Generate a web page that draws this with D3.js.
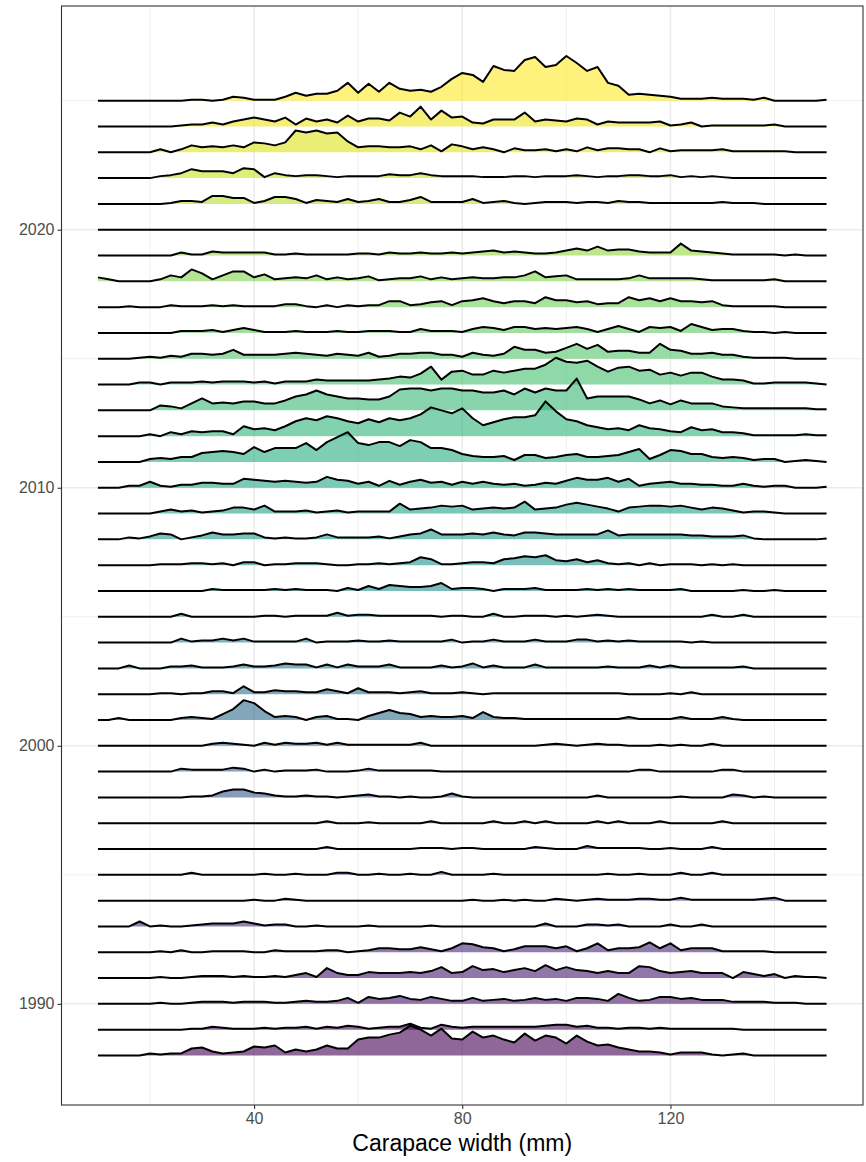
<!DOCTYPE html>
<html>
<head>
<meta charset="utf-8">
<script src="https://cdn.jsdelivr.net/npm/d3@7"></script>
<style>
  body { margin: 0; background: #fff; }
  text { font-family: "Liberation Sans", Arial, sans-serif; }
</style>
</head>
<body>
<div id="ridgeFrame"></div>
<script>
// carapace width bin centres (mm), 2 mm bins
const bins = d3.range(10, 151, 2)

// scaled counts per bin for each survey year (26 = one row of height)
const h2025 = [0,0,0,0,0,0,0,0,0,1, 1,0,1,4,3,1,1,1,4,8, 5,7,7,10,18,8,17,9,18,12, 10,11,9,14,22,28,26,19,35,31, 30,41,44,34,36,45,38,30,34,18, 15,6,7,6,5,4,2,2,2,3, 2,2,2,1,3,0,0,0,0,0, 1]
const h2024 = [0,0,0,0,0,0,0,0,1,2, 2,4,2,5,7,9,7,5,9,2, 8,5,7,4,11,5,8,8,6,14, 10,20,7,16,9,10,4,3,7,7, 7,14,5,7,6,5,8,7,2,5, 4,4,4,4,5,1,2,4,0,1, 1,1,1,1,1,2,0,0,0,0, 0]
const h2023 = [0,0,0,0,0,0,3,0,3,7, 5,6,5,7,5,10,9,7,10,22, 20,22,19,20,11,5,6,6,5,5, 6,3,7,1,8,6,3,5,3,0, 4,2,2,3,1,3,1,5,2,4, 4,3,3,0,4,1,2,2,2,2, 3,1,1,1,1,1,1,0,0,0, 0]
const h2022 = [0,0,0,0,0,0,2,3,5,9, 7,7,7,5,10,9,1,5,3,2, 3,3,2,1,2,2,2,2,4,3, 3,5,3,2,2,2,2,1,1,1, 2,2,1,2,2,2,3,2,1,2, 2,3,3,2,2,3,1,2,1,2, 1,0,0,0,0,0,0,0,0,0, 0]
const h2021 = [0,0,0,0,0,0,0,1,3,3, 2,8,8,6,6,1,3,7,7,5, 1,4,3,2,5,2,3,5,2,2, 4,7,2,2,2,2,5,1,2,3, 1,0,1,2,2,2,1,2,2,1, 3,2,2,1,1,1,1,1,1,1, 2,1,1,1,0,0,0,0,0,0, 0]
const h2020 = [0,0,0,0,0,0,0,0,0,0, 0,0,0,0,0,0,0,0,0,0, 0,0,0,0,0,0,0,0,0,0, 0,0,0,0,0,0,0,0,0,0, 0,0,0,0,0,0,0,0,0,0, 0,0,0,0,0,0,0,0,0,0, 0,0,0,0,0,0,0,0,0,0, 0]
const h2019 = [0,0,0,0,0,0,0,0,3,1, 1,4,3,3,3,3,3,1,1,2, 1,1,1,1,1,2,2,1,3,2, 2,3,2,2,3,2,3,4,5,3, 4,3,2,2,3,5,7,5,9,5, 6,6,4,3,3,3,12,5,4,3, 2,1,1,1,1,1,0,1,0,0, 0]
const h2018 = [4,2,0,0,0,0,2,6,4,12, 8,2,6,10,10,4,7,2,3,4, 3,6,2,4,2,3,5,1,2,3, 3,5,2,4,2,3,4,3,3,4, 4,6,10,4,5,6,2,2,2,2, 2,3,6,3,3,3,3,3,2,1, 1,1,1,1,1,2,0,0,0,0, 0]
const h2017 = [0,0,0,1,0,0,0,2,1,1, 1,2,1,2,1,1,1,1,3,3, 1,0,2,0,2,1,2,2,6,6, 2,3,5,6,2,6,7,9,6,4, 6,6,4,10,7,7,5,6,3,4, 4,10,7,9,6,9,6,6,5,6, 2,1,1,1,1,1,0,0,0,0, 0]
const h2016 = [0,0,0,0,0,0,0,0,2,2, 2,3,1,3,5,3,1,1,1,2, 1,1,1,2,1,1,2,2,2,1, 1,4,2,2,2,1,4,6,5,3, 6,6,4,5,4,5,6,4,1,4, 7,4,1,6,5,6,2,9,6,3, 4,4,2,1,1,0,1,0,0,0, 0]
const h2015 = [0,0,0,0,1,2,1,3,2,5, 5,4,5,9,4,4,4,4,5,6, 5,4,3,5,4,3,6,2,3,5, 5,6,6,4,4,2,6,4,3,5, 12,9,9,6,7,11,15,10,14,7, 8,8,6,6,15,9,8,5,5,6, 4,4,2,1,1,1,1,0,0,0, 0]
const h2014 = [0,0,0,0,2,2,0,2,2,2, 3,2,3,3,3,2,3,1,3,3, 3,5,4,4,4,4,4,5,6,8, 7,11,18,5,13,14,10,10,14,12, 14,16,16,20,27,23,22,24,18,13, 17,18,14,15,10,12,9,12,12,8, 5,5,4,1,1,2,2,2,2,1, 0]
const h2013 = [0,0,0,0,0,0,5,4,2,7, 12,7,8,7,9,9,7,7,10,14, 16,20,16,14,12,12,11,11,14,21, 22,22,20,22,22,20,20,18,18,20, 16,22,18,22,20,20,32,12,14,14, 14,14,11,7,10,6,10,7,7,7, 4,3,2,2,2,2,2,2,2,1, 1]
const h2012 = [0,0,0,0,0,2,0,4,2,5, 4,5,5,2,10,7,8,6,10,15, 18,16,20,18,15,13,17,14,18,16, 18,22,29,26,23,28,18,11,14,17, 19,19,21,35,25,17,15,11,9,7, 8,6,11,8,7,5,4,9,6,7, 4,4,3,1,1,1,1,1,2,1, 1]
const h2011 = [0,0,0,0,0,3,4,3,5,5, 9,10,11,10,8,15,10,14,14,14, 19,12,20,25,30,19,17,20,20,16, 22,20,14,14,12,8,6,5,5,6, 2,7,7,4,5,7,8,5,5,6, 7,10,13,3,7,12,11,8,8,5, 4,5,4,2,3,3,0,1,2,1, 0]
const h2010 = [0,0,0,2,2,6,2,1,3,3, 5,5,4,4,9,8,7,6,7,6, 5,6,11,8,7,4,6,2,7,3, 6,8,5,6,3,6,4,6,4,3, 4,2,3,5,4,7,10,8,8,10, 6,9,2,4,5,6,4,4,3,3, 2,2,4,2,1,2,2,0,0,0, 1]
const h2009 = [0,0,0,0,0,0,2,4,2,3, 1,2,3,6,6,4,8,2,2,2, 3,1,2,3,1,2,2,2,2,10, 4,5,6,8,7,8,4,5,6,5, 6,12,4,5,6,9,11,9,7,5, 2,6,7,8,8,7,8,6,4,6, 5,3,1,2,2,1,0,0,0,0, 0]
const h2008 = [0,0,0,2,1,3,6,5,0,2, 4,7,5,5,6,6,2,1,2,1, 1,2,5,2,2,2,2,3,1,3, 5,6,10,5,5,5,6,5,7,5, 4,7,7,6,5,5,5,5,5,9, 4,5,5,5,5,5,5,4,4,3, 3,3,4,1,0,0,0,0,0,0, 1]
const h2007 = [0,0,0,0,0,0,1,1,1,2, 2,1,2,0,3,3,0,1,1,2, 2,2,1,0,0,1,1,2,1,2, 3,8,6,1,1,2,3,3,2,6, 7,9,8,10,5,4,6,3,5,2, 1,2,0,2,0,1,1,1,0,1, 0,1,0,0,0,0,0,0,0,0, 0]
const h2006 = [0,0,0,0,0,0,0,0,0,0, 0,2,1,1,1,1,1,2,1,2, 1,1,1,0,3,1,5,2,6,5, 4,4,5,8,2,3,3,2,0,2, 2,2,3,1,1,1,1,2,1,2, 1,2,1,1,1,1,2,0,0,0, 0,0,1,0,0,1,0,0,0,0, 0]
const h2005 = [0,0,0,0,0,0,0,0,3,0, 0,0,0,0,0,0,1,1,0,1, 1,1,1,4,1,2,2,1,1,1, 1,1,1,0,1,1,0,0,3,0, 0,1,1,1,0,1,0,1,2,1, 0,0,0,0,0,0,0,0,0,2, 0,0,2,0,0,0,0,0,0,0, 0]
const h2004 = [0,0,0,0,0,0,0,0,4,1, 2,2,4,2,4,1,1,1,1,1, 4,0,1,1,1,2,1,1,2,1, 1,1,1,1,3,0,1,1,3,1, 1,1,3,1,1,1,3,3,1,2, 1,2,1,1,1,1,1,0,1,0, 0,0,0,0,0,0,0,0,0,0, 0]
const h2003 = [0,0,0,3,0,0,0,2,2,3, 1,1,1,2,4,2,2,3,5,4, 4,1,4,1,4,2,2,2,4,1, 1,1,1,3,1,2,5,1,3,1, 1,1,4,1,1,1,1,1,1,2, 1,1,1,3,1,3,1,1,1,1, 1,1,2,0,0,0,0,0,0,0, 0]
const h2002 = [0,0,0,0,0,0,1,1,0,1, 1,3,3,1,8,2,2,4,3,3, 2,2,5,3,1,6,2,2,2,1, 2,3,1,1,1,2,1,0,1,1, 1,1,1,1,1,1,1,1,1,1, 1,0,0,0,0,1,0,2,0,0, 0,0,0,0,0,0,0,0,0,0, 0]
const h2001 = [0,0,2,0,0,0,0,0,2,3, 2,1,6,11,20,17,9,3,4,3, 0,3,4,1,1,0,4,7,10,7, 6,3,4,3,3,4,2,8,3,2, 2,1,1,1,1,1,1,1,1,1, 1,3,1,1,1,1,3,1,1,1, 3,1,0,0,0,0,0,0,0,0, 0]
const h2000 = [0,0,0,0,0,0,0,0,0,0, 0,2,3,2,1,0,3,1,3,2, 2,3,1,3,1,1,1,1,1,1, 1,3,0,0,0,0,0,0,0,0, 0,0,0,1,2,1,0,1,2,1, 1,0,0,0,1,0,1,0,0,2, 0,0,0,0,0,0,0,0,0,0, 0]
const h1999 = [0,0,0,0,0,0,0,0,3,2, 2,2,2,4,3,0,2,0,1,1, 1,2,0,0,0,1,3,1,1,1, 1,1,1,0,0,0,0,0,0,0, 0,0,0,0,0,0,0,0,0,0, 0,0,2,2,0,0,0,0,0,0, 2,2,0,0,0,0,0,0,0,0, 0]
const h1998 = [0,0,0,0,0,0,0,0,0,1, 1,2,6,8,8,5,4,2,1,1, 2,1,1,0,1,2,3,1,1,0, 1,0,0,1,4,1,0,0,0,0, 0,0,0,0,0,0,0,0,2,0, 0,0,0,0,0,0,1,0,0,0, 0,3,2,0,1,0,0,0,0,0, 0]
const h1997 = [0,0,0,0,0,0,0,0,0,0, 0,0,0,0,0,0,0,0,0,0, 0,0,2,0,0,0,1,0,0,0, 0,0,2,0,0,0,0,0,2,0, 0,2,0,2,0,0,0,0,2,0, 2,0,0,0,2,0,0,0,0,0, 2,0,0,0,0,0,0,0,0,0, 0]
const h1996 = [0,0,0,0,0,0,0,0,0,0, 0,0,0,0,0,0,0,0,0,0, 0,0,2,0,0,0,0,0,0,0, 0,1,1,1,0,1,1,0,0,0, 0,0,2,1,0,0,0,3,1,1, 1,1,1,0,0,1,0,0,0,2, 0,0,0,0,0,0,0,0,0,0, 0]
const h1995 = [0,0,0,0,0,0,0,0,0,2, 0,0,0,0,0,0,1,0,0,1, 0,0,0,2,2,0,0,1,0,0, 1,0,0,3,0,0,0,0,1,0, 0,0,0,0,0,0,0,0,0,1, 0,0,1,0,0,0,2,0,0,2, 0,0,0,0,0,0,0,0,0,0, 0]
const h1994 = [0,0,0,0,0,0,0,0,0,0, 0,0,0,0,0,1,0,0,2,1, 0,0,0,0,0,0,0,0,0,0, 0,0,0,0,0,0,1,0,0,1, 0,1,0,0,2,1,0,1,2,1, 1,1,2,2,1,1,3,1,1,1, 1,1,1,1,2,3,0,0,0,0, 0]
const h1993 = [0,0,0,0,5,0,1,0,0,1, 2,3,3,3,5,3,1,2,2,0, 0,1,0,0,0,0,1,0,0,0, 0,0,1,0,0,0,0,0,0,0, 0,0,0,3,0,0,0,2,2,1, 2,0,0,0,0,2,0,0,2,0, 0,0,0,0,0,0,0,0,0,0, 0]
const h1992 = [0,0,0,0,0,0,1,0,2,0, 0,1,1,1,1,0,0,2,1,1, 1,1,2,2,0,1,2,4,4,3, 3,5,3,1,4,9,8,5,4,1, 3,6,6,6,4,6,1,4,9,2, 4,4,5,10,4,9,2,4,4,4, 1,1,1,1,1,0,0,0,0,0, 0]
const h1991 = [0,0,0,0,0,0,1,0,0,1, 2,2,2,1,2,1,1,2,1,3, 5,1,10,5,3,3,6,5,5,5, 6,5,7,11,5,6,12,8,9,6, 8,10,7,13,8,11,8,7,5,7, 5,5,12,11,7,5,6,7,5,5, 5,0,6,4,2,4,0,2,1,1, 0]
const h1990 = [0,0,0,0,0,0,1,0,0,1, 2,2,2,1,2,2,2,1,1,2, 3,2,2,3,6,1,7,5,6,8, 5,4,7,5,3,3,6,3,4,5, 3,4,6,4,5,3,6,6,5,3, 10,6,3,4,7,7,5,6,4,4, 4,2,2,2,2,1,1,1,0,0, 0]
const h1989 = [0,0,0,0,0,0,0,0,0,1, 1,3,2,1,1,1,2,1,2,2, 3,1,3,2,4,3,1,2,3,3, 6,2,1,5,3,2,3,3,3,3, 3,3,3,4,5,5,3,4,2,2, 1,2,2,1,2,1,1,1,1,1, 1,1,0,0,0,0,0,0,0,0, 0]
const h1988 = [0,0,0,0,0,2,1,2,2,7, 8,4,2,3,4,9,8,10,3,6, 4,6,10,7,7,16,18,18,21,23, 30,26,20,27,17,16,24,18,20,16, 13,22,15,20,18,12,20,14,10,11, 8,6,4,4,3,1,3,3,3,1, 0,1,2,0,0,0,0,0,0,0, 0]

const ridges = [
  [1988, h1988], [1989, h1989], [1990, h1990], [1991, h1991], [1992, h1992],
  [1993, h1993], [1994, h1994], [1995, h1995], [1996, h1996], [1997, h1997],
  [1998, h1998], [1999, h1999], [2000, h2000], [2001, h2001], [2002, h2002],
  [2003, h2003], [2004, h2004], [2005, h2005], [2006, h2006], [2007, h2007],
  [2008, h2008], [2009, h2009], [2010, h2010], [2011, h2011], [2012, h2012],
  [2013, h2013], [2014, h2014], [2015, h2015], [2016, h2016], [2017, h2017],
  [2018, h2018], [2019, h2019], [2020, h2020], [2021, h2021], [2022, h2022],
  [2023, h2023], [2024, h2024], [2025, h2025]
]

const xMajor = [40, 80, 120]
const xMinor = [20, 60, 100, 140]
const yMajor = [1990, 2000, 2010, 2020]
const yMinor = [1995, 2005, 2015, 2025]

// panel box
const width = 866
const height = 1162
const panel = ({ left: 61.5, right: 863, top: 6, bottom: 1105 })

var svg = d3.select("#ridgeFrame")
  .append("svg")
    .attr("width", width)
    .attr("height", height)

var x = d3.scaleLinear()
  .domain([3, 157])
  .range([panel.left, panel.right])

var y = d3.scaleLinear()
  .domain([1986.08, 2028.67])
  .range([panel.bottom, panel.top])

// 26 scaled counts = one row of height
var rowScale = d3.scaleLinear().domain([0, 26]).range([0, 1])

var color = d3.scaleSequential(d3.interpolateViridis).domain([1988, 2025])

// grid lines
var grid = svg.append("g")
grid.selectAll(".xminor").data(xMinor).enter().append("line")
  .attr("x1", d => x(d)).attr("x2", d => x(d))
  .attr("y1", panel.top).attr("y2", panel.bottom)
  .attr("stroke", "#EBEBEB").attr("stroke-width", 0.8)
grid.selectAll(".yminor").data(yMinor).enter().append("line")
  .attr("x1", panel.left).attr("x2", panel.right)
  .attr("y1", d => y(d)).attr("y2", d => y(d))
  .attr("stroke", "#EBEBEB").attr("stroke-width", 0.8)
grid.selectAll(".xmajor").data(xMajor).enter().append("line")
  .attr("x1", d => x(d)).attr("x2", d => x(d))
  .attr("y1", panel.top).attr("y2", panel.bottom)
  .attr("stroke", "#EBEBEB").attr("stroke-width", 1.5)
grid.selectAll(".ymajor").data(yMajor).enter().append("line")
  .attr("x1", panel.left).attr("x2", panel.right)
  .attr("y1", d => y(d)).attr("y2", d => y(d))
  .attr("stroke", "#EBEBEB").attr("stroke-width", 1.5)

// ridges: top rows first so lower rows sit on top
var ordered = ridges.slice().sort((a, b) => b[0] - a[0])

var rows = svg.append("g")
  .selectAll("g")
  .data(ordered)
  .enter().append("g")

rows.append("path")
  .attr("fill", d => color(d[0]))
  .attr("fill-opacity", 0.6)
  .attr("d", function (d) {
    var yr = d[0]
    return d3.area()
      .x((v, i) => x(bins[i]))
      .y0(y(yr))
      .y1(v => y(yr + rowScale(v)))(d[1])
  })

rows.append("path")
  .attr("fill", "none")
  .attr("stroke", "#000")
  .attr("stroke-width", 2)
  .attr("stroke-linejoin", "round")
  .attr("d", function (d) {
    var yr = d[0]
    return d3.line()
      .x((v, i) => x(bins[i]))
      .y(v => y(yr + rowScale(v)))(d[1])
  })

// panel border
svg.append("rect")
  .attr("x", panel.left).attr("y", panel.top)
  .attr("width", panel.right - panel.left)
  .attr("height", panel.bottom - panel.top)
  .attr("fill", "none")
  .attr("stroke", "#333333")
  .attr("stroke-width", 1.1)

// axes
var xAxis = svg.append("g")
  .attr("transform", "translate(0," + panel.bottom + ")")
  .call(d3.axisBottom(x).tickValues(xMajor).tickSize(4).tickPadding(4))
var yAxis = svg.append("g")
  .attr("transform", "translate(" + panel.left + ",0)")
  .call(d3.axisLeft(y).tickValues(yMajor).tickFormat(d3.format("d")).tickSize(4).tickPadding(3))

svg.selectAll(".domain").remove()
svg.selectAll(".tick line").attr("stroke", "#333333").attr("stroke-width", 1.1)
svg.selectAll(".tick text")
  .attr("fill", "#4D4D4D")
  .style("font-size", "16px")
  .style("font-family", "'Liberation Sans', Arial, sans-serif")

// x axis title
svg.append("text")
  .attr("x", (panel.left + panel.right) / 2)
  .attr("y", 1151)
  .style("text-anchor", "middle")
  .style("font-size", "23px")
  .attr("fill", "#000")
  .text("Carapace width (mm)")
</script>
</body>
</html>
